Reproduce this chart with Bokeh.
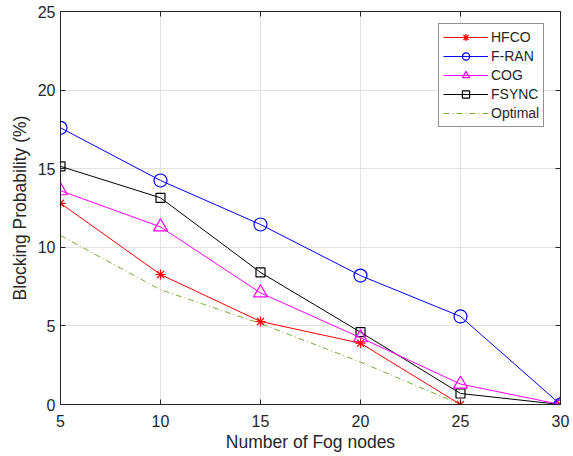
from bokeh.plotting import figure
from bokeh.models import Range1d, LinearAxis, Legend, LegendItem, FixedTicker, CustomJSTickFormatter
from bokeh.embed import file_html
from bokeh.resources import INLINE

fog_nodes = [5, 10, 15, 20, 25, 30]
hfco = [12.8, 8.27, 5.28, 3.9, 0.0, 0.0]
fran = [17.6, 14.25, 11.45, 8.2, 5.6, 0.0]
cog = [13.6, 11.3, 7.1, 4.25, 1.3, 0.0]
fsync = [15.15, 13.15, 8.4, 4.6, 0.7, 0.0]
optimal = [10.75, 7.3, 5.15, 2.7, 0.0, 0.0]
x_ticks = [5, 10, 15, 20, 25, 30]
y_ticks = [0, 5, 10, 15, 20, 25]

FONT = "Liberation Sans"

p = figure(width=573, height=456, output_backend="svg", toolbar_location=None,
           x_range=Range1d(5, 30), y_range=Range1d(0, 25),
           min_border_left=60, min_border_right=13, min_border_top=11, min_border_bottom=52)
p.background_fill_color = "white"
p.border_fill_color = "white"
p.outline_line_color = "#262626"
p.outline_line_width = 1

for ax in [p.xaxis[0], p.yaxis[0]]:
    ax.major_tick_in = 5
    ax.major_tick_out = 0
    ax.minor_tick_in = 0
    ax.minor_tick_out = 0
    ax.axis_line_color = "#262626"
    ax.major_tick_line_color = "#262626"
    ax.major_label_text_font = FONT
    ax.major_label_text_font_size = "16px"
    ax.major_label_text_color = "#262626"
    ax.axis_label_text_font = FONT
    ax.axis_label_text_font_size = "17.5px"
    ax.axis_label_text_font_style = "normal"
    ax.axis_label_text_color = "#262626"

p.xaxis.ticker = FixedTicker(ticks=x_ticks)
p.yaxis.ticker = FixedTicker(ticks=y_ticks)
p.xaxis.axis_label = "Number of Fog nodes"
p.yaxis.axis_label = "Blocking Probability (%)"
p.xaxis.axis_label_standoff = 2
p.yaxis.axis_label_standoff = 5
p.xaxis.major_label_standoff = 10
p.yaxis.major_label_standoff = 5

blank = CustomJSTickFormatter(code="return ''")
top = LinearAxis(ticker=FixedTicker(ticks=x_ticks), major_tick_in=5, major_tick_out=0,
                 minor_tick_in=0, minor_tick_out=0, formatter=blank,
                 major_label_standoff=0,
                 axis_line_color="#262626", major_tick_line_color="#262626")
right = LinearAxis(ticker=FixedTicker(ticks=y_ticks), major_tick_in=5, major_tick_out=0,
                   minor_tick_in=0, minor_tick_out=0, formatter=blank,
                   major_label_standoff=0,
                   axis_line_color="#262626", major_tick_line_color="#262626")
p.add_layout(top, "above")
p.add_layout(right, "right")

p.xgrid.grid_line_color = "#e3e3e3"
p.ygrid.grid_line_color = "#e3e3e3"
p.xgrid.ticker = FixedTicker(ticks=x_ticks)
p.ygrid.ticker = FixedTicker(ticks=y_ticks)

items = []

lo = p.line(fog_nodes, optimal, line_color="#77AC30", line_width=1, line_dash="6 3 1 3")
items.append(("Optimal", [lo]))

l = p.line(fog_nodes, fsync, line_color="black", line_width=1)
s = p.scatter(fog_nodes, fsync, marker="square", size=9, fill_color=None, line_color="black", line_width=1.2)
items.append(("FSYNC", [l, s]))

l = p.line(fog_nodes, cog, line_color="#FF00FF", line_width=1)
s = p.scatter(fog_nodes, cog, marker="triangle", size=14, fill_color=None, line_color="#FF00FF", line_width=1.2)
items.append(("COG", [l, s]))

l = p.line(fog_nodes, fran, line_color="#0000FF", line_width=1)
s = p.scatter(fog_nodes, fran, marker="circle", size=13, fill_color=None, line_color="#0000FF", line_width=1.2)
items.append(("F-RAN", [l, s]))

l = p.line(fog_nodes, hfco, line_color="#FF0000", line_width=1)
s = p.scatter(fog_nodes, hfco, marker="asterisk", size=10, line_color="#FF0000", line_width=1.2)
items.append(("HFCO", [l, s]))

order = ["HFCO", "F-RAN", "COG", "FSYNC", "Optimal"]
d = dict(items)
legend = Legend(items=[LegendItem(label=k, renderers=d[k]) for k in order],
                location=(378, 277), glyph_width=45, glyph_height=18, label_height=18,
                spacing=1, padding=4, margin=0, label_standoff=3,
                label_text_font=FONT, label_text_font_size="14px", label_text_color="#262626",
                border_line_color="#262626", border_line_width=1, background_fill_color="white")
p.add_layout(legend, "center")

open("out.html", "w").write(file_html(p, INLINE))
